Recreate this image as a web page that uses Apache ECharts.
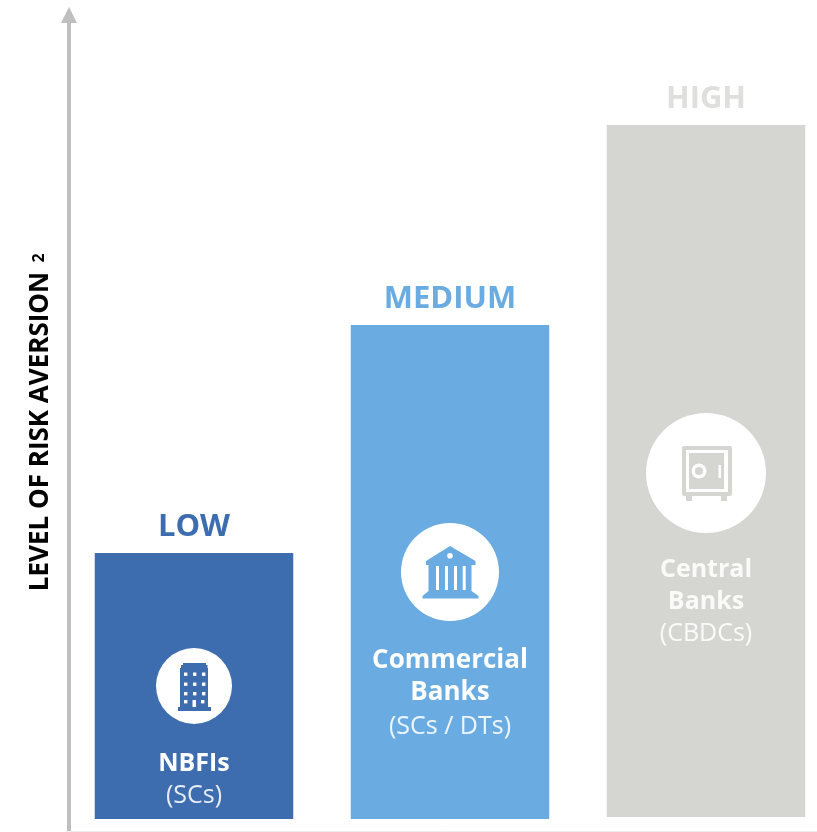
<!DOCTYPE html>
<html><head><meta charset="utf-8">
<script src="https://cdn.jsdelivr.net/npm/echarts@6/dist/echarts.min.js"></script>
<style>html,body{margin:0;padding:0;background:#fff}#c{width:817px;height:832px}</style>
</head><body><div id="c"></div>
<script>
const categories = ['NBFIs', 'Commercial Banks', 'Central Banks'];
const levels = ['LOW', 'MEDIUM', 'HIGH'];
const barStart = [0, 0, 0.2];
const aversion = [26.6, 49.4, 69.2];
const barColors = ['#3d6dae', '#6aace2', '#d5d6d2'];
const levelColors = ['#3d6dae', '#6aace2', '#dfdfdc'];
const FONT = '"Open Sans", sans-serif';
const Z = 50;

function rect(x, y, w, h, fill, r) {
  return {type:'rect', z:Z, shape:{x, y, width:w, height:h, r:r||0}, style:{fill}, silent:true};
}
function circle(cx, cy, r, fill) {
  return {type:'circle', z:Z, shape:{cx, cy, r}, style:{fill}, silent:true};
}
function txt(x, y, text, size, weight, fill) {
  return {type:'text', z:Z, x, y, silent:true, style:{text, x:0, y:0, align:'center', verticalAlign:'middle',
    font: weight+' '+size+'px '+FONT, fill}};
}
function poly(points, fill) {
  return {type:'polygon', z:Z, shape:{points}, style:{fill}, silent:true};
}
const C = barColors;
const g = [];
// y axis title
g.push({type:'text', z:Z, x:41, y:431.5, rotation:Math.PI/2, silent:true,
  style:{text:'LEVEL OF RISK AVERSION', align:'center', verticalAlign:'middle', font:'bold 26px '+FONT, fill:'#000'}});
g.push({type:'text', z:Z, x:39, y:258, rotation:Math.PI/2, silent:true,
  style:{text:'2', align:'center', verticalAlign:'middle', font:'bold 16px '+FONT, fill:'#000'}});
// building icon
g.push(circle(194,686,38,'#fff'));
g.push(poly([[183,663],[206,663],[206,665],[207.5,665],[207.5,668],[208,668],[208,707],[211,707],[211,711],[178,711],[178,707],[180,707],[180,668],[181,668],[181,665],[183,665]],C[0]));
[672.5,682.5,692].forEach(y=>[184,193,202].forEach(x=>g.push(rect(x,y,3.4,3.4,'#fff'))));
g.push(rect(184,700,3.4,3.4,'#fff'));g.push(rect(192.5,700,3.5,7,'#fff'));g.push(rect(201,700,3.4,3.4,'#fff'));
// bank icon
g.push(circle(450,572,49,'#fff'));
g.push(poly([[450,546],[475.5,561],[475.5,565],[471.5,565],[471.5,591],[478.5,596],[478.5,598.5],[422.5,598.5],[422.5,596],[428.5,591],[428.5,565],[426,565],[426,561]],C[1]));
g.push(circle(450,555.7,2.8,'#fff'));
[436,445,454,462.7].forEach(x=>g.push(rect(x,566,3,24,'#fff')));
// safe icon
g.push(circle(706,473,60,'#fff'));
g.push(rect(682,446,50,50,C[2],2));
g.push(rect(686,450,42,42,'#fff'));
g.push(rect(689,453,35,36,C[2]));
g.push(circle(699,471,7.5,'#fff'));
g.push(circle(699,471,4,C[2]));
g.push(rect(718.5,465,2.5,13,'#fff'));
g.push(rect(686,496,6,5,C[2]));g.push(rect(721,496,6,5,C[2]));
// captions in bars
g.push(txt(194,764,'NBFIs',25,'bold','#fff'));
g.push(txt(194,796,'(SCs)',25,'normal','#e6ecf5'));
g.push(txt(450,661,'Commercial',26,'bold','#fff'));
g.push(txt(450,693,'Banks',26,'bold','#fff'));
g.push(txt(450,727,'(SCs / DTs)',25,'normal','#eef5fb'));
g.push(txt(706,570,'Central',25,'bold','#fafaf8'));
g.push(txt(706,602,'Banks',25,'bold','#fafaf8'));
g.push(txt(706,634,'(CBDCs)',25,'normal','#fafaf8'));

const chart = echarts.init(document.getElementById('c'), null, {renderer:'canvas'});
chart.setOption({
  animation:false,
  backgroundColor:'#fff',
  grid:{left:66, top:15, width:768, bottom:1, outerBoundsMode:'none'},
  xAxis:{type:'category', data:categories, axisTick:{show:false}, axisLabel:{show:false},
    axisLine:{onZero:false, show:true, lineStyle:{color:'#eeeeee', width:1}}},
  yAxis:{type:'value', min:-1.2, max:80.4, offset:-3, splitLine:{show:false}, axisTick:{show:false}, axisLabel:{show:false},
    axisLine:{show:true, symbol:['none','triangle'], symbolSize:[16,16],
      lineStyle:{color:'#bfbfbf', width:4}}},
  series:[
    {type:'bar', stack:'s', barWidth:198.5, silent:true, itemStyle:{color:'transparent'}, data:barStart},
    {type:'bar', stack:'s', barWidth:198.5,
    data:aversion.map((v,i)=>({value:v, itemStyle:{color:barColors[i]},
      label:{show:true, position:'top', distance:10, formatter:levels[i], color:levelColors[i],
        fontFamily:FONT, fontWeight:'bold', fontSize:31}}))}],
  graphic:g
});
</script></body></html>
